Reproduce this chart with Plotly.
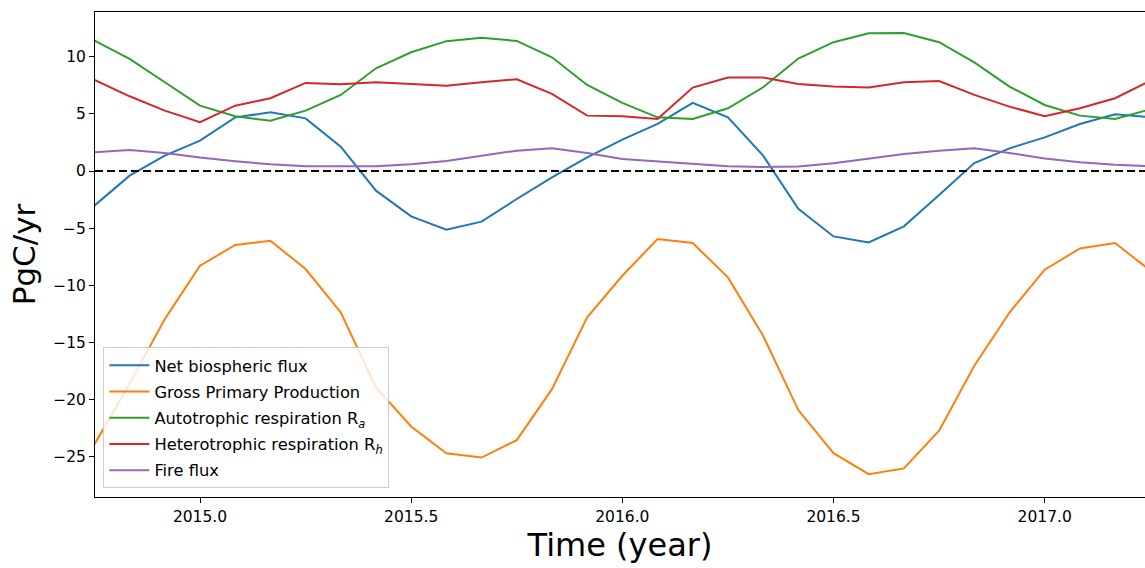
import numpy as np
import plotly.graph_objects as go

# Monthly time axis (decimal years)
start_year = 2014.75
n_months = 31
time = [start_year + k / 12 for k in range(n_months)]

net_flux = [-3.03, -0.41, 1.34, 2.65, 4.69, 5.13, 4.60, 2.13, -1.72, -3.97,
            -5.13, -4.43, -2.45, -0.55, 1.20, 2.74, 4.11, 5.95, 4.69, 1.34,
            -3.30, -5.72, -6.24, -4.84, -2.10, 0.70, 1.98, 2.94, 4.11, 4.96, 4.70]
gpp = [-23.9, -18.6, -12.95, -8.28, -6.47, -6.10, -8.57, -12.37, -18.93, -22.34,
       -24.68, -25.05, -23.53, -19.07, -12.80, -9.16, -5.95, -6.30, -9.30, -14.40,
       -20.90, -24.67, -26.50, -26.00, -22.70, -17.03, -12.37, -8.63, -6.77, -6.30, -8.70]
ra = [11.40, 9.80, 7.76, 5.71, 4.78, 4.40, 5.28, 6.65, 8.98, 10.38,
      11.35, 11.64, 11.37, 9.94, 7.52, 5.95, 4.69, 4.55, 5.48, 7.32,
      9.83, 11.26, 12.04, 12.07, 11.26, 9.50, 7.38, 5.77, 4.84, 4.55, 5.40]
rh = [7.96, 6.53, 5.28, 4.26, 5.71, 6.36, 7.70, 7.58, 7.76, 7.60,
      7.45, 7.76, 8.02, 6.74, 4.84, 4.78, 4.55, 7.29, 8.17, 8.17,
      7.60, 7.38, 7.29, 7.76, 7.87, 6.65, 5.63, 4.78, 5.48, 6.36, 7.90]
fire = [1.63, 1.84, 1.57, 1.17, 0.85, 0.58, 0.41, 0.38, 0.41, 0.60,
        0.88, 1.34, 1.78, 1.98, 1.57, 1.05, 0.82, 0.58, 0.41, 0.35,
        0.40, 0.67, 1.05, 1.49, 1.78, 1.98, 1.57, 1.10, 0.76, 0.55, 0.41]

series_names = ["Net biospheric flux", "Gross Primary Production",
                "Autotrophic respiration R<sub><i>a</i></sub>",
                "Heterotrophic respiration R<sub><i>h</i></sub>",
                "Fire flux"]
series_values = [net_flux, gpp, ra, rh, fire]
colors = ["#1f77b4", "#ff7f0e", "#2ca02c", "#d62728", "#9467bd"]

x_ticks = [2015.0, 2015.5, 2016.0, 2016.5, 2017.0]
y_ticks = [10, 5, 0, -5, -10, -15, -20, -25]

font_family = "DejaVu Sans"

fig = go.Figure()
for i, (name, vals, col) in enumerate(zip(series_names, series_values, colors)):
    fig.add_trace(go.Scatter(x=time, y=vals, mode="lines", name=name,
                             legendgroup=f"g{i}",
                             line=dict(color=col, width=2)))

# zero reference line
fig.add_shape(type="line", xref="paper", x0=0, x1=1, yref="y", y0=0, y1=0,
              line=dict(color="black", width=2, dash="8px,4px"), layer="above")

fig.update_layout(
    width=1145, height=568,
    margin=dict(l=95, r=0, t=12, b=71),
    paper_bgcolor="white", plot_bgcolor="white",
    font=dict(family=font_family, color="black", size=15),
    showlegend=True,
    legend=dict(x=0.008, y=0.018, xanchor="left", yanchor="bottom",
                bgcolor="rgba(255,255,255,0.8)", bordercolor="#cccccc",
                borderwidth=1, font=dict(size=16.3, family=font_family),
                tracegroupgap=2, itemwidth=40),
)
fig.update_xaxes(
    range=[2014.7514, 2017.2375], tickvals=x_ticks,
    ticktext=[f"{v:.1f}" for v in x_ticks],
    ticks="outside", ticklen=5, tickcolor="black", tickwidth=1,
    showline=True, linecolor="black", linewidth=1, mirror=True,
    showgrid=False, zeroline=False,
    tickfont=dict(size=15.5, family=font_family),
    title=dict(text="Time (year)", font=dict(size=32, family=font_family), standoff=6),
)
fig.update_yaxes(
    range=[-28.5, 13.9], tickvals=y_ticks,
    ticktext=[("\u2212" + str(-v)) if v < 0 else str(v) for v in y_ticks],
    ticks="outside", ticklen=5, tickcolor="black", tickwidth=1,
    showline=True, linecolor="black", linewidth=1, mirror=False,
    showgrid=False, zeroline=False,
    tickfont=dict(size=15.5, family=font_family),
    title=dict(text="PgC/yr", font=dict(size=31, family=font_family), standoff=8),
)

fig.write_html("out.html")
